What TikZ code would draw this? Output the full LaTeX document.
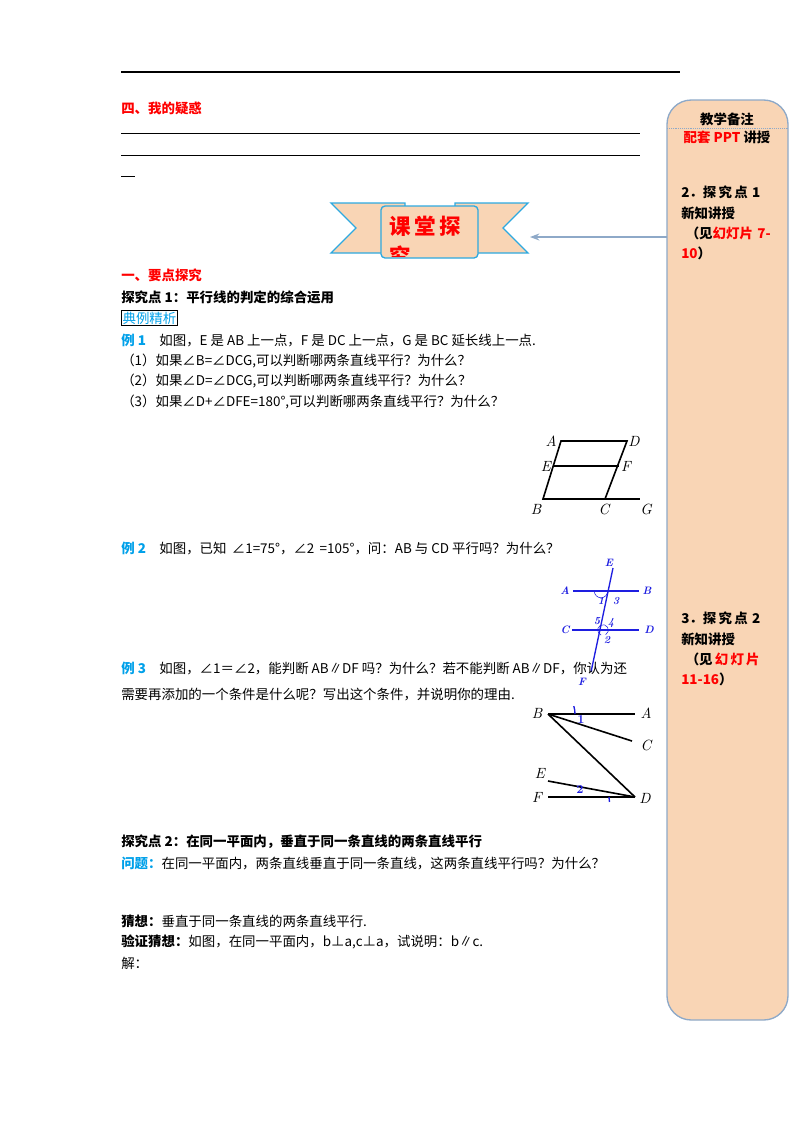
\documentclass[tikz,border=0pt]{standalone}
\usepackage{fontspec}
\setmainfont{Noto Sans CJK SC}
\newfontfamily\lmi{Latin Modern Roman}
\usetikzlibrary{arrows.meta}
\definecolor{peach}{HTML}{F9D5B5}
\definecolor{boxb}{HTML}{8EA9C8}
\definecolor{cyanb}{HTML}{2EA9E0}
\definecolor{lblue}{HTML}{00A0E9}
\definecolor{fblue}{HTML}{1E1EE0}
\definecolor{rd}{HTML}{FF0000}
\begin{document}
\begin{tikzpicture}[x=0.744pt,y=-0.744pt,
  txt/.style={anchor=west,inner sep=0pt,font=\fontsize{10}{11}\selectfont},
  btxt/.style={txt,font=\fontsize{10}{11}\selectfont\bfseries},
  lab/.style={inner sep=0pt,font=\lmi\itshape\fontsize{11}{11}\selectfont},
  blab/.style={inner sep=0pt,text=fblue,font=\lmi\bfseries\itshape\fontsize{8}{9}\selectfont},
  fl/.style={line width=1.2pt},
  bl/.style={fblue,line width=1pt}]
\useasboundingbox (0,0) rectangle (800,1132);
% top lines
\draw[line width=0.8pt] (121,72) -- (680,72);
\node[btxt,text=rd] (t4) at (121,108) {四、我的疑惑};
\draw[line width=0.5pt] (121,133) -- (640,133);
\draw[line width=0.5pt] (121,155) -- (640,155);
\draw[line width=0.5pt] (121,176) -- (135,176);
% right box
\draw[boxb,fill=peach,line width=1pt,rounded corners=18pt] (667,100) rectangle (788,1020);
\draw[boxb,densely dotted] (667,128) -- (788,128);
\node[txt,anchor=center] (bz) at (727,119) {\bfseries 教学备注};
\node[txt,anchor=center] (pp) at (727,137) {\bfseries\textcolor{rd}{配套 PPT} 讲授};
\node[txt,anchor=north west,align=left,text width=74pt,font=\fontsize{10}{15}\selectfont] (r1) at (681,186)
 {\bfseries 2．探\,究\,点 1\\新知讲授\\\ （见\textcolor{rd}{幻灯片 7-}\\\textcolor{rd}{10}）};
\node[txt,anchor=north west,align=left,text width=74pt,font=\fontsize{10}{15}\selectfont] (r2) at (681,612)
 {\bfseries 3．探\,究\,点 2\\新知讲授\\\ （见\,\textcolor{rd}{幻\,灯\,片}\\\textcolor{rd}{11-16}）};
% banner
\draw[cyanb,fill=peach,line width=1pt] (331,203) -- (405,203) -- (405,253) -- (331,253) -- (356,228) -- cycle;
\draw[cyanb,fill=peach,line width=1pt] (528,203) -- (455,203) -- (455,253) -- (528,253) -- (503,228) -- cycle;
\draw[cyanb,fill=peach,line width=1pt,rounded corners=3pt] (381,206) rectangle (478,258);
\begin{scope}
\clip (381,206) rectangle (478,256);
\node[inner sep=0pt,anchor=north west,text=rd,align=left,font=\fontsize{16}{22}\selectfont\bfseries] (bt) at (389,216) {课\,堂\,探\\究};
\end{scope}
\coordinate (ae) at (667,237);
\draw[boxb,line width=1pt,-{Stealth[length=7pt]}] (ae) -- (530,237);
% text block
\node[btxt,text=rd] at (121,275) {一、要点探究};
\node[btxt] at (121,297) {探究点 1：平行线的判定的综合运用};
\node[txt,text=lblue,draw=black,inner sep=1pt] at (121,318) {典例精析};
\node[txt] at (121,340) {\textcolor{lblue}{\bfseries 例 1}\quad 如图，E 是 AB 上一点，F 是 DC 上一点，G 是 BC 延长线上一点.};
\node[txt] at (121,361) {（1）如果∠B=∠DCG,可以判断哪两条直线平行？为什么？};
\node[txt] at (121,381) {（2）如果∠D=∠DCG,可以判断哪两条直线平行？为什么？};
\node[txt] at (121,402) {（3）如果∠D+∠DFE=180°,可以判断哪两条直线平行？为什么？};
% fig 1
\coordinate (A) at (561,441); \coordinate (D) at (627,441);
\coordinate (B) at (543,499); \coordinate (C) at (605,499); \coordinate (G) at (640,499);
\coordinate (E) at (554,466); \coordinate (F) at (619,466);
\draw[fl] (A) -- (D) -- (C) -- (B) -- cycle;
\draw[fl] (E) -- (F); \draw[fl] (C) -- (G);
\node[lab] at (551,441) {A}; \node[lab] at (634,441) {D};
\node[lab] at (546,466) {E}; \node[lab] at (626,466) {F};
\node[lab] at (536,509) {B}; \node[lab] at (604,509) {C}; \node[lab] at (646,509) {G};
% ex 2
\node[txt] at (121,548) {\textcolor{lblue}{\bfseries 例 2}\quad 如图，已知 \,∠1=75°，∠2 \,=105°，问：AB 与 CD 平行吗？为什么？};
\coordinate (tE) at (613,568); \coordinate (tF) at (591,672);
\draw[bl] (tE) -- (tF);
\draw[bl] (573,591) -- (639,591);
\draw[bl] (572,630) -- (639,630);
\draw[fblue] (601,591) ++(180:5pt) arc (180:360:5pt);
\draw[fblue] (603,630) ++(-60:4pt) arc (-60:250:4pt);
\node[blab] at (609,563) {E}; \node[blab] at (565,591) {A}; \node[blab] at (647,591) {B};
\node[blab] at (565,630) {C}; \node[blab] at (649,630) {D}; \node[blab] at (582,682) {F};
\node[blab] at (601,601) {1}; \node[blab] at (616,601) {3};
\node[blab] at (597,621) {5}; \node[blab] at (611,623) {4}; \node[blab] at (607,640) {2};
% ex 3
\node[txt] at (121,668) {\textcolor{lblue}{\bfseries 例 3}\quad 如图，∠1＝∠2，能判断 AB∥DF 吗？为什么？若不能判断 AB∥DF，你认为还};
\node[txt] at (121,695) {需要再添加的一个条件是什么呢？写出这个条件，并说明你的理由.};
\coordinate (B3) at (548,714); \coordinate (A3) at (635,714); \coordinate (C3) at (632,741);
\coordinate (D3) at (635,797); \coordinate (E3) at (548,781); \coordinate (F3) at (548,797);
\draw[fl] (B3) -- (A3); \draw[fl] (B3) -- (C3); \draw[fl] (B3) -- (D3);
\draw[fl] (E3) -- (D3); \draw[fl] (F3) -- (D3);
\draw[fblue,line width=1pt] (575,714) arc (0:-17:27);
\draw[fblue,line width=1pt] (609,797) arc (180:169:26);
\node[blab,font=\lmi\bfseries\fontsize{9}{9}\selectfont] at (581,720) {1};
\node[blab,font=\lmi\bfseries\fontsize{9}{9}\selectfont] at (580,790) {2};
\node[lab] at (537,713) {B}; \node[lab] at (646,713) {A}; \node[lab] at (646,745) {C};
\node[lab] at (540,773) {E}; \node[lab] at (537,797) {F}; \node[lab] at (645,798) {D};
% point 2
\node[btxt] at (121,842) {探究点 2：在同一平面内，垂直于同一条直线的两条直线平行};
\node[txt] at (121,863) {\textcolor{lblue}{\bfseries 问题：}在同一平面内，两条直线垂直于同一条直线，这两条直线平行吗？为什么？};
\node[txt] at (121,921) {\bfseries 猜想：\mdseries 垂直于同一条直线的两条直线平行.};
\node[txt] at (121,942) {\bfseries 验证猜想：\mdseries 如图，在同一平面内，b⊥a,c⊥a，试说明：b∥c.};
\node[txt] at (121,963) {解：};
\end{tikzpicture}
\end{document}
